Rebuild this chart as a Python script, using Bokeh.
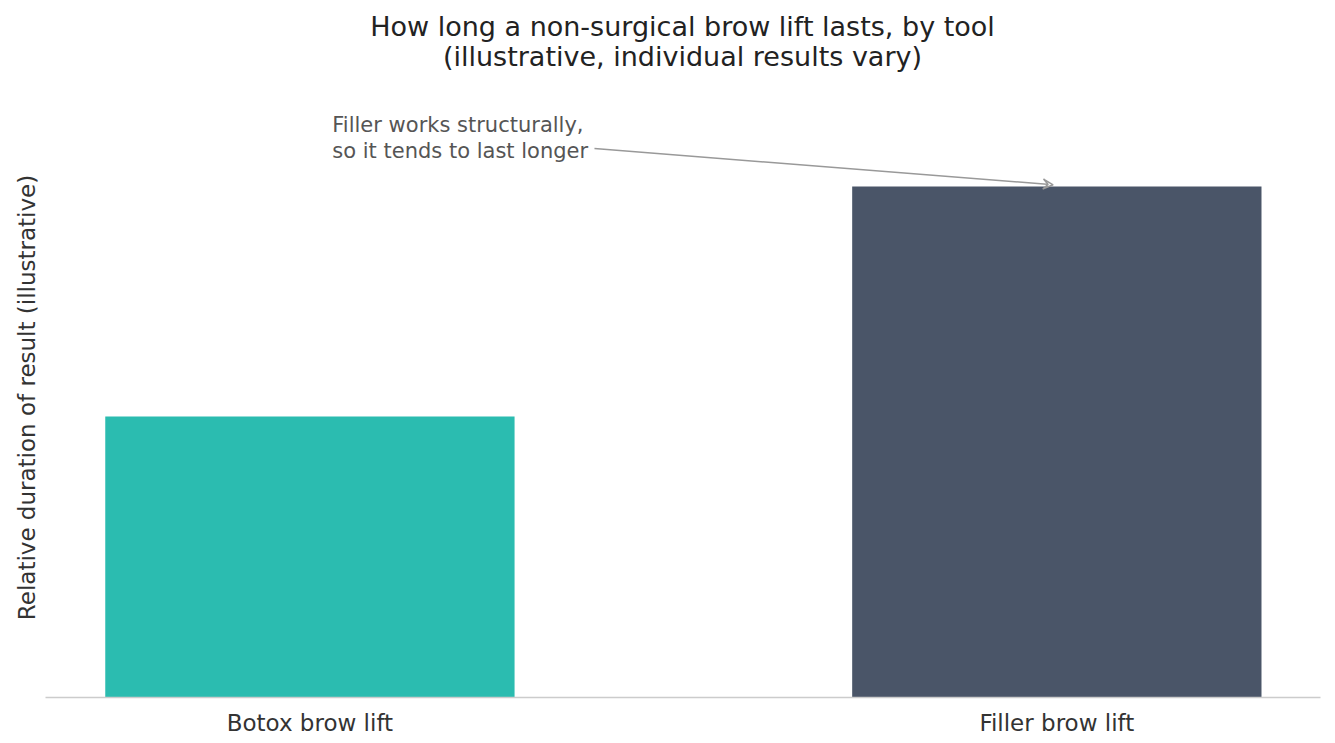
from bokeh.plotting import figure
from bokeh.models import Range1d, FixedTicker, Label, Arrow, VeeHead, ColumnDataSource, Div
from bokeh.layouts import column
from bokeh.embed import file_html
from bokeh.resources import INLINE

categories = ["Botox brow lift", "Filler brow lift"]
durations = [3.3, 6.0]
bar_colors = ["#2bbcb0", "#4a5568"]
title_lines = ["How long a non-surgical brow lift lasts, by tool",
               "(illustrative, individual results vary)"]

FONT = "DejaVu Sans"
xs = list(range(len(categories)))
src = ColumnDataSource(dict(x=xs, top=durations, color=bar_colors, name=categories))

title_div = Div(
    text=("<div style=\"display:block; box-sizing:border-box; width:1275px; margin:0 0 0 45px; "
          "padding:12px 0 0 0; font-family:'DejaVu Sans'; font-size:27px; color:#222222; "
          "text-align:center; line-height:30px; white-space:nowrap;\">"
          + "<br>".join(title_lines) + "</div>"),
    width=1335, height=97, margin=0)

p = figure(width=1335, height=646, output_backend="svg", toolbar_location=None,
           x_range=Range1d(-0.354, 1.353), y_range=Range1d(0, 7.045),
           min_border_left=45, min_border_right=15, min_border_bottom=46, min_border_top=0,
           margin=0)
p.title = None

p.vbar(x="x", top="top", width=0.548, color="color", source=src, line_color=None)

p.outline_line_color = None
p.grid.visible = False
p.background_fill_color = "white"
p.border_fill_color = "white"

p.xaxis.ticker = FixedTicker(ticks=xs)
p.xaxis.major_label_overrides = {i: c for i, c in enumerate(categories)}
p.xaxis.major_tick_line_color = None
p.xaxis.minor_tick_line_color = None
p.xaxis.axis_line_color = "#cccccc"
p.xaxis.axis_line_width = 1.5
p.xaxis.major_label_text_font = FONT
p.xaxis.major_label_text_font_size = "23px"
p.xaxis.major_label_text_color = "#333333"
p.xaxis.major_label_standoff = 6

p.yaxis.ticker = FixedTicker(ticks=[])
p.yaxis.major_tick_line_color = None
p.yaxis.minor_tick_line_color = None
p.yaxis.axis_line_color = None
p.yaxis.major_label_text_font_size = "0px"
p.yaxis.major_label_standoff = 0
p.yaxis.axis_label = "Relative duration of result (illustrative)"
p.yaxis.axis_label_text_font = FONT
p.yaxis.axis_label_text_font_size = "23px"
p.yaxis.axis_label_text_font_style = "normal"
p.yaxis.axis_label_text_color = "#333333"
p.yaxis.axis_label_standoff = 6

p.add_layout(Label(x=0.030, y=6.569, text="Filler works structurally,\nso it tends to last longer",
                   text_font=FONT, text_font_size="21px", text_color="#555555",
                   text_align="left", text_baseline="middle", text_line_height=1.05))
p.add_layout(Arrow(x_start=0.381, y_start=6.446, x_end=0.995, y_end=durations[1] + 0.02,
                   line_color="#999999", line_width=1.5,
                   end=VeeHead(size=10, line_color="#999999", line_width=1.5, fill_color=None)))

layout = column(title_div, p, spacing=0)
open("out.html", "w").write(file_html(layout, INLINE))
